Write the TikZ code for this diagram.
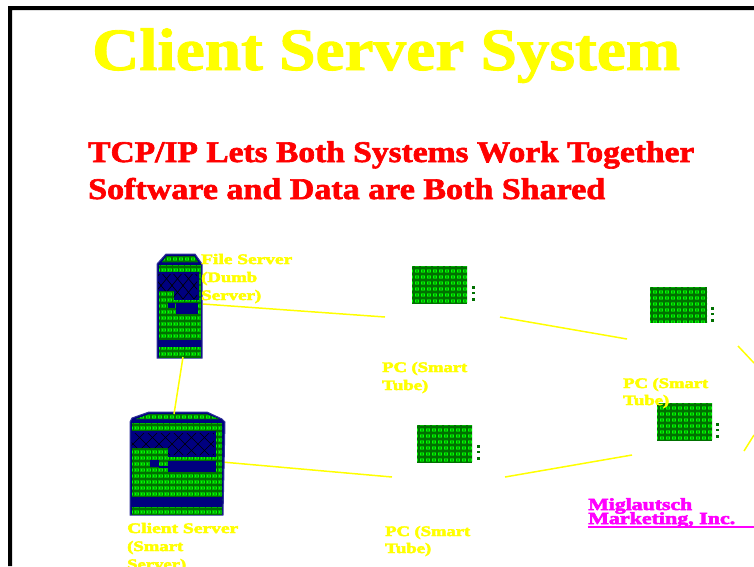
\documentclass[tikz,border=0pt]{standalone}
\usepackage{fontspec}
\usepackage{graphicx}
\setmainfont{Liberation Serif}
\newfontfamily\titlefont[BoldFeatures={FakeBold=1.5}]{Liberation Serif}
\newfontfamily\subfont[BoldFeatures={FakeBold=2}]{Liberation Serif}
\newfontfamily\labfont[BoldFeatures={FakeBold=3}]{Liberation Serif}
\definecolor{ngreen}{HTML}{00B400}
\definecolor{dgreen}{HTML}{007000}
\definecolor{lgreen}{HTML}{00FF00}
\definecolor{nblue}{HTML}{000080}
\definecolor{nmagenta}{HTML}{FF00FF}
\definecolor{nyellow}{HTML}{FFFF00}
\definecolor{nred}{HTML}{FF0000}
\newcommand{\fitw}[2]{\resizebox{#1pt}{\height}{#2}}
\tikzset{
  titletext/.style={anchor=base west,inner sep=0pt,text=nyellow,font=\titlefont\fontsize{60}{60}\selectfont\bfseries},
  subtext/.style={anchor=base west,inner sep=0pt,text=nred,font=\subfont\fontsize{30}{30}\selectfont\bfseries},
  lab/.style={anchor=base west,inner sep=0pt,text=nyellow,font=\labfont\fontsize{14.5}{14.5}\selectfont\bfseries},
  maker/.style={anchor=base west,inner sep=0pt,text=nmagenta,font=\labfont\fontsize{17}{17}\selectfont\bfseries},
  link/.style={draw=nyellow,line width=1.5pt},
  case/.style={fill=nblue,draw=nblue!80,line width=1pt},
  panel/.style={fill=nblue},
  dots/.style={fill=dgreen},
  gridd/.style={draw=dgreen,line width=1.1pt},
  gridl/.style={fill=lgreen},
  gridk/.style={draw=black,line width=0.6pt}
}
\newcommand{\greenfield}[4]{% x0 y0 x1 y1
  \fill[ngreen] (#1,#2) rectangle (#3,#4);
  \begin{scope}
    \clip (#1,#2) rectangle (#3,#4);
    \foreach \q in {0,6,...,96} {\draw[gridd] (#1+\q+2,#2) -- (#1+\q+2,#4);}
    \foreach \q in {0,6,...,96} {\draw[gridd] (#1,#2+\q+2) -- (#3,#2+\q+2);}
    \foreach \q in {0,3,...,96} {\foreach \r in {0,6,...,96} {\fill[gridl] (#1+\q+0.2,#2+\r+4.4) rectangle ++(1.1,1.1);}}
  \end{scope}}
\newcommand{\pcbox}[7]{% x0 y0 x1 y1 dotx dot1 name
  \greenfield{#1}{#2}{#3}{#4}
  \fill[dots] (#5-1.5,#6-1.5) rectangle (#5+1.5,#6+1.5);
  \fill[dots] (#5-1.5,#6+5) rectangle (#5+1.5,#6+7);
  \fill[dots] (#5-1.5,#6+10.5) rectangle (#5+1.5,#6+13.5);
  \coordinate (#7) at (#1,#2);}
\begin{document}
\begin{tikzpicture}[x=1pt,y=-1pt]
\useasboundingbox (0,0) rectangle (754,566);
\clip (0,0) rectangle (754,566);
\fill[white] (0,0) rectangle (754,566);
\fill[black] (8,566) -- (8,6) -- (754,6) -- (754,10) -- (12,10) -- (12,566) -- cycle;

\node[titletext] (title) at (92,70) {\fitw{588}{Client Server System}};
\node[subtext] (sub1) at (88,162) {\fitw{606}{TCP/IP Lets Both Systems Work Together}};
\node[subtext] (sub2) at (88,199) {\fitw{517}{Software and Data are Both Shared}};

% connectors
\coordinate (fsR) at (203,304);
\coordinate (fsB) at (183,357);
\coordinate (csT) at (174,414);
\coordinate (csR) at (222,462);
\coordinate (a1) at (385,317);
\coordinate (a2) at (500,317);
\coordinate (b1) at (627,339);
\coordinate (b2) at (738,346);
\coordinate (b3) at (754,363);
\coordinate (c1) at (754,435);
\coordinate (c2) at (744,451);
\coordinate (d1) at (392,477);
\coordinate (d2) at (505,477);
\coordinate (d3) at (632,455);
\draw[link] (fsR) -- (a1);
\draw[link] (a2) -- (b1);
\draw[link] (b2) -- (b3);
\draw[link] (c1) -- (c2);
\draw[link] (d2) -- (d3);
\draw[link] (csR) -- (d1);

% file server
\fill[case] (157,264) -- (166,254) -- (195,254) -- (202,264) -- (202,358) -- (157,358) -- cycle;
\greenfield{158.5}{265}{200.5}{357}
\begin{scope}
\clip (167,256) -- (194,256) -- (198,262) -- (162,262) -- cycle;
\greenfield{158}{254}{201}{264}
\end{scope}
\fill[panel] (158,272) rectangle (199,291);
\fill[panel] (174,291) rectangle (199,300);
\fill[panel] (176,303) rectangle (198,314);
\fill[panel] (168,303) rectangle (175,308);
\fill[panel] (158,340) rectangle (200.5,347);
\begin{scope}
\clip (158,274) rectangle (197,291) (174,291) rectangle (197,299);
\foreach \q in {150,161,...,206} {\draw[gridk] (\q,272) -- (\q+11,285.5) -- (\q,299); \draw[gridk] (\q+11,272) -- (\q,285.5) -- (\q+11,299);}
\end{scope}

% client server
\fill[case] (130,422) -- (132,418) -- (149,412) -- (207,412) -- (222,419) -- (225,422) -- (223,515) -- (130,515) -- cycle;
\greenfield{131.5}{423}{222}{514}
\begin{scope}
\clip (136,419) -- (150,414) -- (206,414) -- (219,419) -- cycle;
\greenfield{131}{412}{222}{423}
\end{scope}
\fill[panel] (131.5,431) rectangle (216,448);
\fill[panel] (168,448) rectangle (216,457);
\fill[panel] (168,461) rectangle (216,472);
\fill[panel] (150,460) rectangle (159,467);
\fill[panel] (159,466) rectangle (168,468);
\fill[panel] (131.5,497) rectangle (222,507);
\begin{scope}
\clip (131.5,433) rectangle (214,448) (168,448) rectangle (214,455);
\foreach \q in {120,133,...,220} {\draw[gridk] (\q,431) -- (\q+13,444) -- (\q,457); \draw[gridk] (\q+13,431) -- (\q,444) -- (\q+13,457);}
\end{scope}
\draw[link] (fsB) -- (csT);

% PCs
\pcbox{412}{266}{467}{303}{473}{287}{pcA}
\pcbox{650}{287}{707}{323}{712}{308}{pcB}
\pcbox{657}{403}{712}{440}{717}{424}{pcC}
\pcbox{417}{425}{472}{462}{478}{446}{pcD}

% labels
\node[lab] (l1) at (201,264) {\fitw{91}{File Server}};
\node[lab] (l2) at (201,282) {\fitw{56}{(Dumb}};
\node[lab] (l3) at (201,300) {\fitw{60}{Server)}};
\node[lab] (l4) at (382,372) {\fitw{85}{PC (Smart}};
\node[lab] (l5) at (382,390) {\fitw{46}{Tube)}};
\node[lab] (l6) at (623,388) {\fitw{85}{PC (Smart}};
\node[lab] (l7) at (623,405) {\fitw{46}{Tube)}};
\node[lab] (l8) at (385,536) {\fitw{85}{PC (Smart}};
\node[lab] (l9) at (385,553) {\fitw{46}{Tube)}};
\node[lab] (l10) at (127,533) {\fitw{111}{Client Server}};
\node[lab] (l11) at (127,551) {\fitw{56}{(Smart}};
\node[lab] (l12) at (127,569) {\fitw{59}{Server)}};
\node[maker] (m1) at (588,510) {\fitw{104}{Miglautsch}};
\node[maker] (m2) at (588,524) {\fitw{147}{Marketing, Inc.}};
\fill[nmagenta] (588,526) rectangle (754,527.5);
\end{tikzpicture}
\end{document}
